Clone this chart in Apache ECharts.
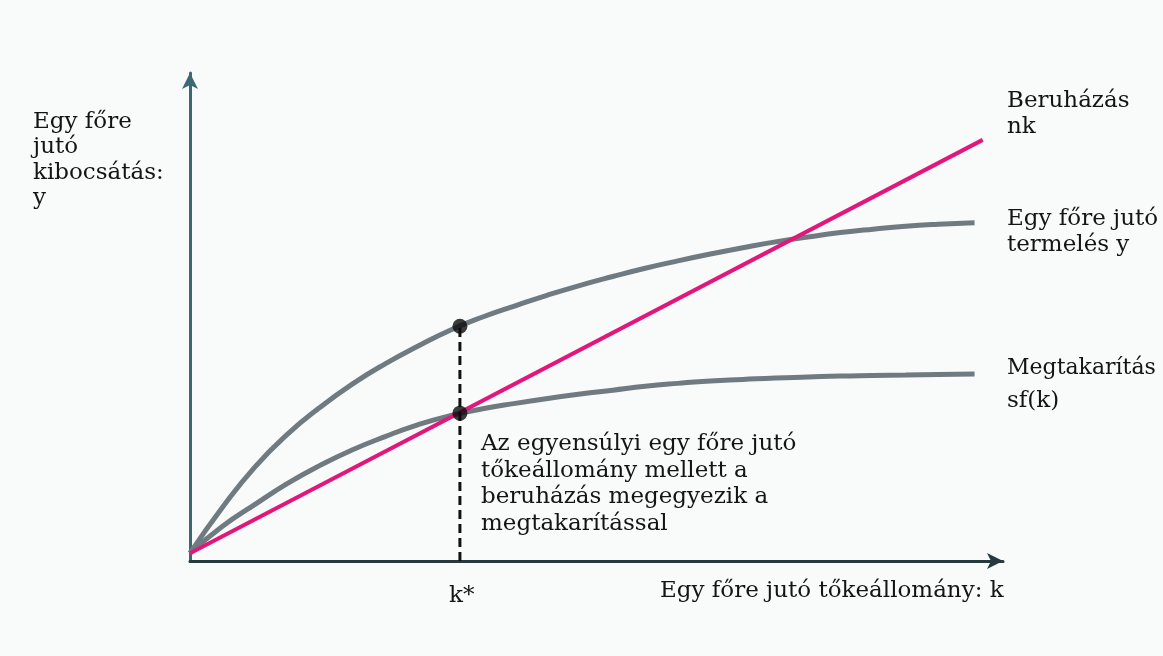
<!DOCTYPE html>
<html>
<head>
<meta charset="utf-8">
<title>Solow</title>
<script src="https://cdn.jsdelivr.net/npm/echarts@6/dist/echarts.min.js"></script>
<style>
  html, body { margin: 0; padding: 0; background: #f9fafa; }
  #chart { width: 1163px; height: 656px; }
</style>
</head>
<body>
<div id="chart"></div>
<script>
// capital per worker (x) sample points
const kValues = [0, 4, 8, 12, 16, 20, 24, 28, 32, 36, 40, 44, 48, 52, 56, 60, 64, 68, 72, 76, 80, 84, 88, 92, 96.5];
// output per worker y = f(k)
const outputValues = [1.6, 11.0, 19.3, 26.0, 31.5, 36.3, 40.4, 44.0, 47.3, 50.0, 52.3, 54.5, 56.5, 58.3, 60.0, 61.5, 62.9, 64.2, 65.4, 66.4, 67.3, 68.0, 68.6, 69.0, 69.3];
// savings sf(k)
const savingsValues = [1.6, 7.1, 11.6, 15.9, 19.6, 22.8, 25.5, 27.9, 29.8, 31.2, 32.3, 33.3, 34.2, 35.0, 35.8, 36.4, 36.9, 37.2, 37.5, 37.7, 37.9, 38.0, 38.1, 38.2, 38.3];
// investment line nk
const investmentK = [0, 97.5];
const investmentValues = [1.6, 86.3];
// steady state
const kStar = 33.2;
const kStarOutput = 48.1;
const kStarSavings = 30.3;

const pairs = (xs, ys) => xs.map((x, i) => [x, ys[i]]);

const textColor = "#141414";
const fontFamily = "'DejaVu Serif', 'Liberation Serif', serif";
const label = (x, y, text, lh, size) => ({
  type: "text",
  left: x,
  top: y,
  style: {
    text: text,
    font: (size || 23) + "px " + fontFamily,
    fill: textColor,
    lineHeight: lh || 26,
  },
});

const chart = echarts.init(document.getElementById("chart"));
chart.setOption({
  backgroundColor: "#f9fafa",
  animation: false,
  grid: { left: 190, right: 160, top: 73, bottom: 95 },
  xAxis: {
    type: "value",
    min: 0,
    max: 100,
    axisLine: {
      symbol: ["none", "arrow"],
      symbolSize: [12, 16],
      lineStyle: { color: "#26393f", width: 3 },
    },
    axisTick: { show: false },
    axisLabel: { show: false },
    splitLine: { show: false },
  },
  yAxis: {
    type: "value",
    min: 0,
    max: 100,
    axisLine: {
      show: true,
      symbol: ["none", "arrow"],
      symbolSize: [12, 16],
      lineStyle: { color: "#3a6875", width: 3 },
    },
    axisTick: { show: false },
    axisLabel: { show: false },
    splitLine: { show: false },
  },
  series: [
    {
      name: "termelés",
      type: "line",
      data: pairs(kValues, outputValues),
      smooth: true,
      showSymbol: false,
      lineStyle: { color: "#6f7b81", width: 5 },
      z: 2,
    },
    {
      name: "megtakarítás",
      type: "line",
      data: pairs(kValues, savingsValues),
      smooth: true,
      showSymbol: false,
      lineStyle: { color: "#6f7b81", width: 5 },
      z: 2,
    },
    {
      name: "beruházás",
      type: "line",
      data: pairs(investmentK, investmentValues),
      showSymbol: false,
      lineStyle: { color: "#e2177c", width: 4 },
      z: 3,
    },
    {
      name: "kstar",
      type: "line",
      data: [[kStar, 0], [kStar, kStarOutput]],
      showSymbol: false,
      lineStyle: { color: "#111", width: 3, type: [9, 5] },
      z: 4,
    },
    {
      name: "dots",
      type: "scatter",
      data: [[kStar, kStarOutput], [kStar, kStarSavings]],
      symbolSize: 15,
      itemStyle: { color: "#0b0b0b" },
      z: 5,
    },
  ],
  graphic: [
    label(33, 109, "Egy főre\njutó\nkibocsátás:\ny", 25.5),
    label(1007, 88, "Beruházás\nnk", 26),
    label(1007, 206, "Egy főre jutó\ntermelés y", 26),
    label(1007, 355, "Megtakarítás", 26, 22),
    label(1007, 388, "sf(k)"),
    label(481, 431, "Az egyensúlyi egy főre jutó\ntőkeállomány mellett a\nberuházás megegyezik a\nmegtakarítással", 26.5),
    label(449, 583, "k*"),
    label(660, 578, "Egy főre jutó tőkeállomány: k"),
  ],
});
</script>
</body>
</html>
